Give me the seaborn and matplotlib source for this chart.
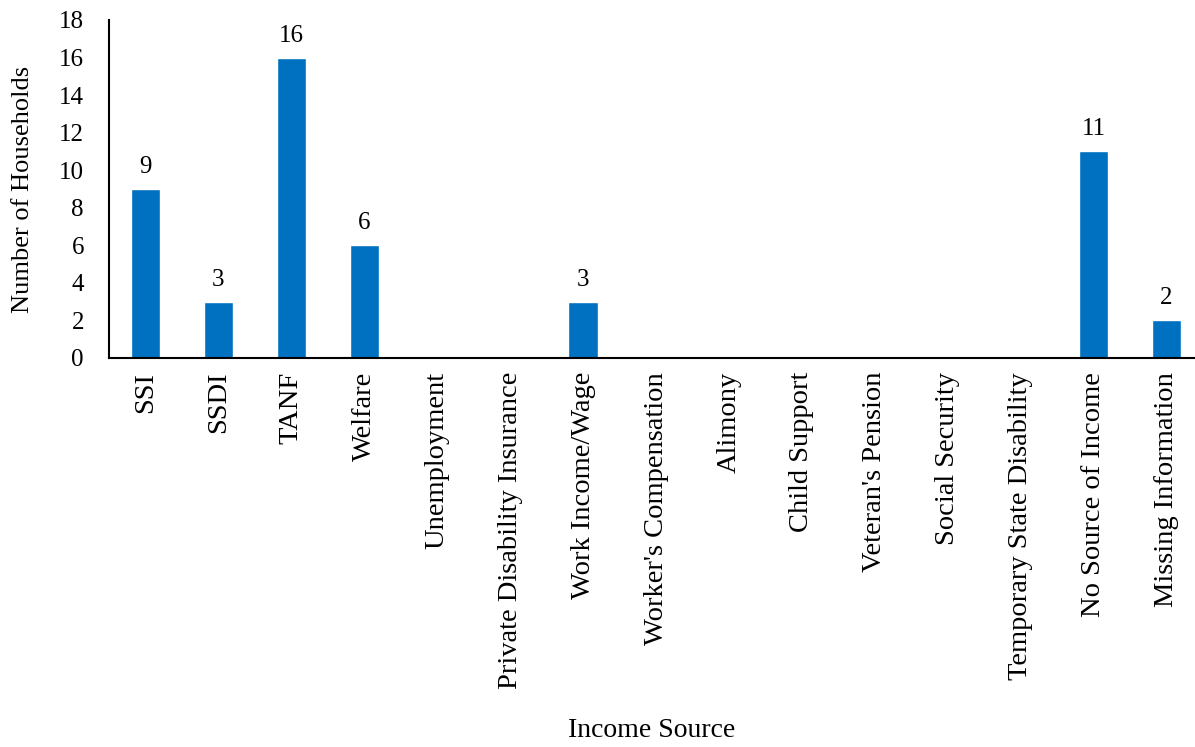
import matplotlib
matplotlib.use("Agg")
import matplotlib.pyplot as plt
import seaborn as sns
import pandas as pd

categories = ["SSI", "SSDI", "TANF", "Welfare", "Unemployment",
              "Private Disability Insurance", "Work Income/Wage",
              "Worker's Compensation", "Alimony", "Child Support",
              "Veteran's Pension", "Social Security",
              "Temporary State Disability", "No Source of Income",
              "Missing Information"]
households = [9, 3, 16, 6, 0, 0, 3, 0, 0, 0, 0, 0, 0, 11, 2]

sns.set_theme(style="white")
plt.rcParams['font.family'] = ['Liberation Serif', 'DejaVu Serif']

df = pd.DataFrame({"Income Source": categories, "Households": households})

fig = plt.figure(figsize=(11.95, 7.47), dpi=100)
ax = fig.add_axes([109 / 1195, 1 - 358 / 747, 1 - 109 / 1195, (358 - 20) / 747])

sns.barplot(data=df, x="Income Source", y="Households", color="#0070C0",
            width=0.40, saturation=1, ax=ax)

# data labels above non-zero bars
for i, v in enumerate(households):
    if v > 0:
        ax.annotate(str(v), (i, v), xytext=(0, 11.5), textcoords="offset points",
                    ha="center", va="baseline", fontsize=18, color="black")

ax.set_ylim(0, 18)
ax.set_yticks(range(0, 19, 2))
ax.set_xlim(-0.5, len(categories) - 0.61)
ax.tick_params(axis="both", length=0, colors="black")
ax.tick_params(axis="y", labelsize=18, pad=18)
ax.tick_params(axis="x", rotation=90, labelsize=20.5, pad=10)
ax.set_ylabel("Number of Households", fontsize=19, color="black", labelpad=18)
ax.set_xlabel("Income Source", fontsize=20, color="black", labelpad=21)
for s in ["top", "right"]:
    ax.spines[s].set_visible(False)
for s in ["left", "bottom"]:
    ax.spines[s].set_color("black")
    ax.spines[s].set_linewidth(1.5)

fig.savefig("out.png", dpi=100)
